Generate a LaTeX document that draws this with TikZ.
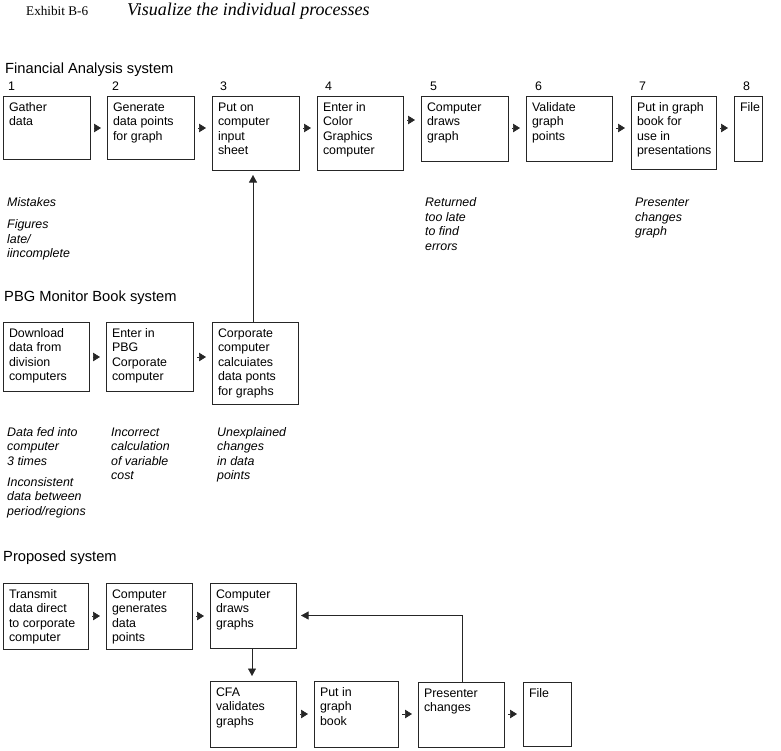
\documentclass[tikz,border=0pt]{standalone}
\usepackage{fontspec}
\setmainfont{Liberation Sans}
\newfontfamily\serifti{Liberation Serif}
\usetikzlibrary{arrows.meta}
\tikzset{
 box/.style={draw=black!85, line width=0.6pt, anchor=north west, inner sep=0pt, outer sep=0pt},
 arr/.style={draw=black!85, line width=0.6pt, -{Triangle[length=7.5pt,width=8pt]}, shorten >=5pt},
 harr/.style={draw=black!85, line width=0.6pt, -{Triangle[length=7pt,width=8.5pt]}, shorten <=4pt, shorten >=6pt},
 note/.style={anchor=base west, inner sep=0pt},
 head/.style={anchor=base west, inner sep=0pt, font=\fontsize{14.7}{17}\selectfont},
 num/.style={anchor=base west, inner sep=0pt, font=\fontsize{12.4}{14.5}\selectfont},
}
\newcommand\boxfont{\fontsize{12.4}{14.5}\selectfont}
\newcommand\bx[6]{\node[box, minimum width=#4pt, minimum height=#5pt] (#1) at (#2,#3) {\parbox[c][#5pt][t]{#4pt}{\boxfont\raggedright\setlength\leftskip{6pt}\rule{0pt}{15pt}#6}};}
\newcommand\nt[4]{\node[note] (#1) at (#2,#3) {\parbox[t]{110pt}{\boxfont\itshape\raggedright #4}};}
\begin{document}
\begin{tikzpicture}[x=1pt,y=-1pt]
\useasboundingbox (0,0) rectangle (781,750);
% title
\node[anchor=base west, inner sep=0pt, font=\serifti\fontsize{13.2}{15}\selectfont] (ex) at (26,15) {Exhibit B-6};
\node[anchor=base west, inner sep=0pt, font=\serifti\itshape\fontsize{18}{20}\selectfont] (ttl) at (127,15) {Visualize the individual processes};
% helper coordinates
\coordinate (y1) at (0,128);
\coordinate (y1b) at (0,120);
\coordinate (y2) at (0,357);
\coordinate (y3) at (0,616);
\coordinate (y4) at (0,714);
\coordinate (x253) at (253,0);
\coordinate (x252) at (252,0);
\coordinate (x462) at (462,0);
% Financial Analysis system
\node[head] (h1) at (5,73) {Financial Analysis system};
\node[num] (n1) at (8,90) {1};
\node[num] (n2) at (112,90) {2};
\node[num] (n3) at (220,90) {3};
\node[num] (n4) at (325,90) {4};
\node[num] (n5) at (430,90) {5};
\node[num] (n6) at (535,90) {6};
\node[num] (n7) at (639,90) {7};
\node[num] (n8) at (743,90) {8};
\bx{b1}{3}{96}{87}{63}{Gather\\data}
\bx{b2}{107}{96}{87}{63}{Generate\\data points\\for graph}
\bx{b3}{212}{96}{87}{74}{Put on\\computer\\input\\sheet}
\bx{b4}{317}{96}{86}{74}{Enter in\\Color\\Graphics\\computer}
\bx{b5}{421}{96}{87}{65}{Computer\\draws\\graph}
\bx{b6}{526}{96}{86}{65}{Validate\\graph\\points}
\bx{b7}{631}{96}{85}{73}{Put in graph\\book for\\use in\\presentations}
\bx{b8}{734}{96}{28}{65}{File}
\draw[harr] (b1.east |- y1) -- (b2.west |- y1);
\draw[harr] (b2.east |- y1) -- (b3.west |- y1);
\draw[harr] (b3.east |- y1) -- (b4.west |- y1);
\draw[harr] (b4.east |- y1b) -- (b5.west |- y1b);
\draw[harr] (b5.east |- y1) -- (b6.west |- y1);
\draw[harr] (b6.east |- y1) -- (b7.west |- y1);
\draw[harr] (b7.east |- y1) -- (b8.west |- y1);
\nt{m1}{7}{206.5}{Mistakes\\[7.5pt]Figures\\late/\\iincomplete}
\nt{m5}{425}{206.5}{Returned\\too late\\to find\\errors}
\nt{m7}{635}{206.5}{Presenter\\changes\\graph}
% PBG Monitor Book system
\node[head] (h2) at (4,301) {PBG Monitor Book system};
\bx{c1}{3}{322}{86}{69}{Download\\data from\\division\\computers}
\bx{c2}{106}{322}{87}{69}{Enter in\\PBG\\Corporate\\computer}
\bx{c3}{212}{322}{86}{82}{Corporate\\computer\\calcuiates\\data ponts\\for graphs}
\draw[harr] (c1.east |- y2) -- (c2.west |- y2);
\draw[harr] (c2.east |- y2) -- (c3.west |- y2);
\draw[arr] (x253 |- c3.north) -- (x253 |- b3.south);
\nt{d1}{7}{436}{Data fed into\\computer\\3 times\\[6.5pt]Inconsistent\\data between\\period/regions}
\nt{d2}{111}{436}{Incorrect\\calculation\\of variable\\cost}
\nt{d3}{217}{436}{Unexplained\\changes\\in data\\points}
% Proposed system
\node[head] (h3) at (3,561) {Proposed system};
\bx{p1}{3}{583}{85}{66}{Transmit\\data direct\\to corporate\\computer}
\bx{p2}{106}{583}{86}{66}{Computer\\generates\\data\\points}
\bx{p3}{210}{583}{86}{65}{Computer\\draws\\graphs}
\bx{q1}{210}{681}{86}{66}{CFA\\validates\\graphs}
\bx{q2}{314}{681}{84}{66}{Put in\\graph\\book}
\bx{q3}{418}{682}{86}{65}{Presenter\\changes}
\bx{q4}{523}{682}{48}{64}{File}
\draw[harr] (p1.east |- y3) -- (p2.west |- y3);
\draw[harr] (p2.east |- y3) -- (p3.west |- y3);
\draw[arr] (x252 |- p3.south) -- (x252 |- q1.north);
\draw[harr] (q1.east |- y4) -- (q2.west |- y4);
\draw[harr] (q2.east |- y4) -- (q3.west |- y4);
\draw[harr] (q3.east |- y4) -- (q4.west |- y4);
\draw[arr] (x462 |- q3.north) |- (p3.east);
\end{tikzpicture}
\end{document}
